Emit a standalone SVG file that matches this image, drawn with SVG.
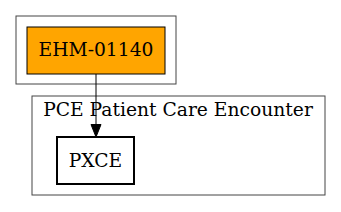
<svg xmlns="http://www.w3.org/2000/svg" width="341" height="212" viewBox="0 0 341 212">
<style>
text{font-family:"DejaVu Serif",serif;font-size:18.7px;text-anchor:middle;fill:#000}
.cl{fill:none;stroke:#444;stroke-width:1}
</style>
<defs>
<marker id="ah" markerWidth="13" markerHeight="11" refX="12.5" refY="5" orient="auto" markerUnits="userSpaceOnUse" overflow="visible">
<path d="M0,0 L12.5,5 L0,10 Z" fill="#000" stroke="#000" stroke-width="1"/>
</marker>
</defs>
<rect width="341" height="212" fill="#fff"/>
<g id="cluster1"><rect class="cl" x="16" y="16" width="160" height="68"/></g>
<g id="cluster2"><rect class="cl" x="32" y="96" width="293" height="99"/>
<text x="178" y="116">PCE Patient Care Encounter</text></g>
<g id="connectors"><line x1="96" y1="74" x2="96" y2="137" stroke="#000" stroke-width="1" marker-end="url(#ah)"/></g>
<g id="EHM-01140"><rect x="27" y="27" width="138" height="47" fill="#ffa500" stroke="#000"/>
<text x="96" y="56">EHM-01140</text></g>
<g id="PXCE"><rect x="57" y="137" width="77" height="47" fill="#fff" stroke="#000" stroke-width="2"/>
<text x="95.5" y="166.5">PXCE</text></g>
</svg>
